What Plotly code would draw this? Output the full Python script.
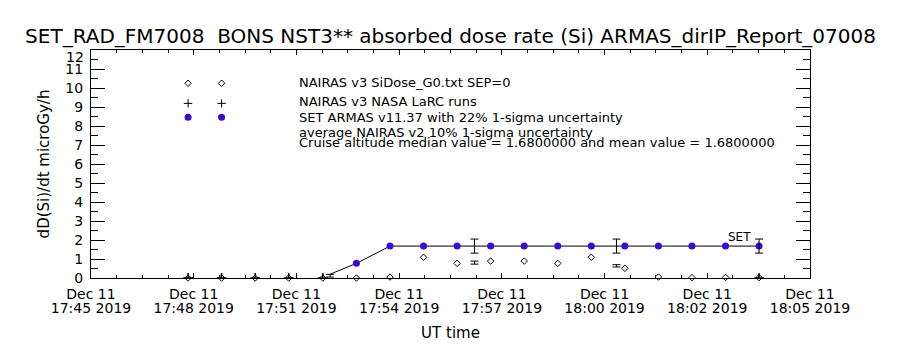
import plotly.graph_objects as go
import pandas as pd

DAY = "2019-12-11 "

# ---- data -------------------------------------------------------------
point_times = ["17:47:42", "17:48:38", "17:49:34", "17:50:30", "17:51:27", "17:52:23",
               "17:53:19", "17:54:15", "17:55:11", "17:56:07", "17:57:03", "17:57:59",
               "17:58:55", "17:59:51", "18:00:47", "18:01:43", "18:02:39", "18:03:35"]
nairas_v3_sidose = [0, 0, 0, 0, 0, 0, 0.05, 1.09, 0.77, 0.89, 0.89, 0.77,
                    1.09, 0.51, 0.05, 0.02, 0.03, 0.02]

set_times = ["17:52:23", "17:53:19", "17:54:15", "17:55:11", "17:56:07", "17:57:03",
             "17:57:59", "17:58:55", "17:59:51", "18:00:47", "18:01:43", "18:02:39",
             "18:03:35"]
set_armas = [0.77, 1.68, 1.68, 1.68, 1.68, 1.68, 1.68, 1.68, 1.68, 1.68, 1.68, 1.68, 1.68]

larc_times = ["17:47:42", "17:48:38", "17:49:34", "17:50:30", "17:51:27", "18:03:35"]
larc_runs = [0, 0, 0, 0, 0, 0]

set_line_times = ["17:51:39", "17:52:23", "17:53:19", "17:54:15", "17:55:11", "17:56:07",
                  "17:57:03", "17:57:59", "17:58:55", "17:59:51", "18:00:47", "18:01:43",
                  "18:02:39", "18:03:35"]
set_line_vals = [0.2, 0.77, 1.68, 1.68, 1.68, 1.68, 1.68, 1.68, 1.68, 1.68, 1.68, 1.68, 1.68, 1.68]

set_err_times = ["17:55:40", "17:59:37", "18:03:35"]
set_err_vals = [1.68, 1.68, 1.68]
set_err = [0.37, 0.37, 0.37]

v2_times = ["17:51:39", "17:55:40", "17:59:37"]
v2_vals = [0.12, 0.81, 0.64]
v2_err = [0.07, 0.08, 0.06]

legend_sym_times = ["17:47:42", "17:48:38"]
legend_diamond_y = [10.25, 10.25]
legend_plus_y = [9.19, 9.19]
legend_blue_y = [8.46, 8.46]

legend_text_time = "17:50:43"
legend_lines = ["NAIRAS v3 SiDose_G0.txt SEP=0",
                "NAIRAS v3 NASA LaRC runs",
                "SET ARMAS v11.37 with 22% 1-sigma uncertainty",
                "average NAIRAS v2 10% 1-sigma uncertainty",
                "Cruise altitude median value = 1.6800000 and mean value = 1.6800000"]
legend_line_y = [10.3, 9.28, 8.44, 7.68, 7.14]

set_label_time = "18:02:39"
set_label_y = 2.16

x_start, x_end = DAY + "17:45:00", DAY + "18:05:00"
tick_top = ["Dec 11"] * 8
tick_bottom = ["17:45 2019", "17:48 2019", "17:51 2019", "17:54 2019",
               "17:57 2019", "18:00 2019", "18:02 2019", "18:05 2019"]
y_tickvals = list(range(0, 13))
y_ticktext = [str(v) for v in range(0, 12)] + [""]
y_top_label = "12"
y_top_label_pos = 11.63

title_text = "SET_RAD_FM7008\u00a0 BONS NST3** absorbed dose rate (Si) ARMAS_dirIP_Report_07008"

# ---- figure -----------------------------------------------------------
FONT = "DejaVu Sans"
BLUE = "#3a0ccc"


def ts(lst):
    return [DAY + t for t in lst]


tickvals = pd.date_range(x_start, x_end, periods=8)

fig = go.Figure()

fig.add_trace(go.Scatter(x=ts(set_line_times), y=set_line_vals, mode="lines",
                         line=dict(color="black", width=1), hoverinfo="skip"))
fig.add_trace(go.Scatter(x=ts(set_times), y=set_armas, mode="markers",
                         marker=dict(symbol="circle", size=7, color=BLUE,
                                     line=dict(width=0))))
fig.add_trace(go.Scatter(x=ts(point_times), y=nairas_v3_sidose, mode="markers",
                         cliponaxis=False,
                         marker=dict(symbol="diamond-open", size=5, color="black",
                                     line=dict(width=1, color="black"))))
fig.add_trace(go.Scatter(x=ts(larc_times), y=larc_runs, mode="markers",
                         marker=dict(symbol="cross-thin", size=7,
                                     line=dict(width=1.5, color="black"))))
fig.add_trace(go.Scatter(x=ts(set_err_times), y=set_err_vals, mode="markers",
                         marker=dict(size=1, color="rgba(0,0,0,0)"),
                         error_y=dict(type="data", array=set_err, visible=True,
                                      color="black", thickness=1, width=4)))
fig.add_trace(go.Scatter(x=ts(v2_times), y=v2_vals, mode="markers",
                         marker=dict(size=1, color="rgba(0,0,0,0)"),
                         error_y=dict(type="data", array=v2_err, visible=True,
                                      color="black", thickness=1, width=4)))
# legend symbols (drawn in data space as in the original)
fig.add_trace(go.Scatter(x=ts(legend_sym_times), y=legend_diamond_y, mode="markers",
                         marker=dict(symbol="diamond-open", size=5, color="black",
                                     line=dict(width=1, color="black"))))
fig.add_trace(go.Scatter(x=ts(legend_sym_times), y=legend_plus_y, mode="markers",
                         marker=dict(symbol="cross-thin", size=6,
                                     line=dict(width=1, color="black"))))
fig.add_trace(go.Scatter(x=ts(legend_sym_times), y=legend_blue_y, mode="markers",
                         marker=dict(symbol="circle", size=7, color=BLUE)))
# empty trace to host the second label row axis
fig.add_trace(go.Scatter(x=[], y=[], xaxis="x2", mode="markers"))

for txt, yv in zip(legend_lines, legend_line_y):
    fig.add_annotation(x=DAY + legend_text_time, y=yv, xref="x", yref="y", text=txt,
                       showarrow=False, xanchor="left", yanchor="middle",
                       font=dict(family=FONT, size=13, color="black"))
fig.add_annotation(x=DAY + set_label_time, y=set_label_y, xref="x", yref="y", text="SET",
                   showarrow=False, xanchor="left", yanchor="middle",
                   font=dict(family=FONT, size=12, color="black"))
fig.add_annotation(x=0, xref="paper", y=y_top_label_pos, yref="y", text=y_top_label,
                   showarrow=False, xanchor="right", yanchor="middle", xshift=-5,
                   font=dict(family=FONT, size=14, color="black"))

fig.update_layout(
    width=900, height=350,
    margin=dict(l=91, r=90, t=50, b=72),
    paper_bgcolor="white", plot_bgcolor="white",
    showlegend=False,
    font=dict(family=FONT, color="black"),
    title=dict(text=title_text, x=0.5, xanchor="center", xref="paper",
               y=1 - 35.5 / 350, yref="container", yanchor="middle",
               font=dict(family=FONT, size=20, color="black")),
    xaxis=dict(type="date", range=[x_start, x_end], tickmode="array",
               tickvals=tickvals, ticktext=tick_bottom,
               ticks="inside", ticklen=5, tickwidth=1, tickcolor="black",
               showline=True, linecolor="black", linewidth=1, mirror="ticks",
               showgrid=False, zeroline=False,
               ticklabelstandoff=17,
               tickfont=dict(family=FONT, size=14, color="black"),
               minor=dict(ticks="inside", ticklen=3, tickcolor="black", tickwidth=1,
                          dtick=20 * 60 * 1000 / 28, tick0=x_start, showgrid=False),
               title=dict(text="UT time", standoff=12,
                          font=dict(family=FONT, size=15, color="black"))),
    xaxis2=dict(type="date", range=[x_start, x_end], overlaying="x", anchor="y",
                side="bottom", tickmode="array", tickvals=tickvals, ticktext=tick_top,
                ticks="", showline=False, showgrid=False, zeroline=False,
                ticklabelstandoff=6,
                tickfont=dict(family=FONT, size=14, color="black")),
    yaxis=dict(range=[0, 12], tickmode="array", tickvals=y_tickvals, ticktext=y_ticktext,
               ticks="inside", ticklen=14, tickwidth=1, tickcolor="black",
               showline=True, linecolor="black", linewidth=1, mirror="ticks",
               showgrid=False, zeroline=False, ticklabelstandoff=4,
               tickfont=dict(family=FONT, size=14, color="black"),
               minor=dict(ticks="inside", ticklen=7, tickcolor="black", tickwidth=1,
                          tickmode="linear", tick0=0, dtick=0.5, showgrid=False),
               title=dict(text="dD(Si)/dt microGy/h", standoff=12,
                          font=dict(family=FONT, size=15, color="black"))),
)

fig.write_html("out.html")
